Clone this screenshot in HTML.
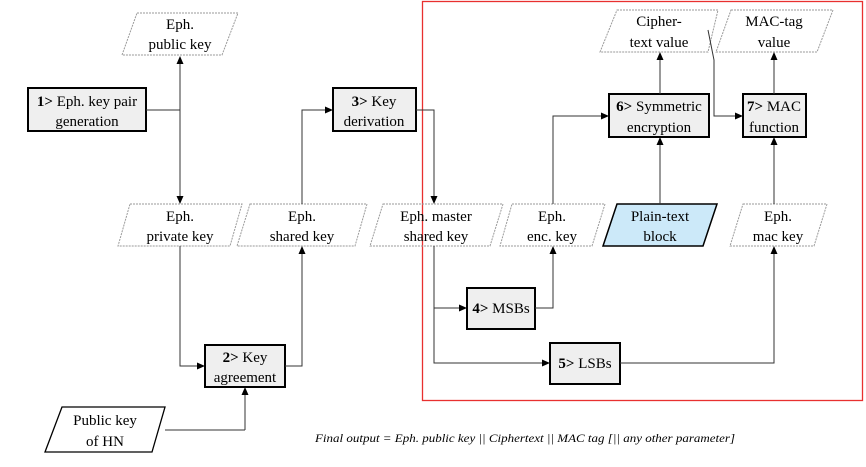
<!DOCTYPE html>
<html><head><meta charset="utf-8"><style>
html,body{margin:0;padding:0;background:#fff;}
svg{display:block;font-family:"Liberation Serif",serif;}
</style></head><body>
<svg width="866" height="467" viewBox="0 0 866 467" xmlns="http://www.w3.org/2000/svg">
<defs><marker id="a" markerWidth="8" markerHeight="8" refX="7" refY="4" orient="auto" markerUnits="userSpaceOnUse"><path d="M0,0.5 L8,4 L0,7.5 z" fill="#000"/></marker></defs>
<rect x="422.5" y="1.5" width="440" height="399" fill="none" stroke="#e8302f" stroke-width="1.3"/>
<g fill="none" stroke="#9a9a9a" stroke-width="1" stroke-dasharray="2,1">
<polygon points="137,13 238,13 222,55 122,55"/>
<polygon points="130,204 242,204 230,246 118,246"/>
<polygon points="250,204 367,204 355,246 237,246"/>
<polygon points="383,204 503,204 490,246 370,246"/>
<polygon points="512,204 605,204 592,246 500,246"/>
<polygon points="743,204 827,204 814,246 730,246"/>
<polygon points="617,10 718,10 708,52 600,52"/>
<polygon points="731,10 833,10 817,52 716,52"/>
</g>
<polygon points="617,204 717,204 703,246 603,246" fill="#cce9f9" stroke="#000" stroke-width="1.5"/>
<polygon points="62,407 165,407 152,452 45,452" fill="#fff" stroke="#000" stroke-width="1.3"/>
<g fill="#efefef" stroke="#000" stroke-width="2">
<rect x="28" y="88" width="118" height="43"/>
<rect x="333" y="88" width="83" height="43"/>
<rect x="609" y="94" width="100" height="43"/>
<rect x="743" y="94" width="63" height="43"/>
<rect x="467" y="288" width="68" height="41"/>
<rect x="550" y="343" width="70" height="41"/>
<rect x="205" y="345" width="80" height="42"/>
</g>
<g fill="none" stroke="#333" stroke-width="1">
<line x1="146" y1="110" x2="180" y2="110"/>
<line x1="180" y1="110" x2="180" y2="57" marker-end="url(#a)"/>
<line x1="180" y1="110" x2="180" y2="203" marker-end="url(#a)"/>
<polyline points="302,204 302,110 332,110" marker-end="url(#a)"/>
<polyline points="416,110 434,110 434,203" marker-end="url(#a)"/>
<polyline points="180,246 180,366 204,366" marker-end="url(#a)"/>
<polyline points="285,366 302,366 302,247" marker-end="url(#a)"/>
<polyline points="245,430 165,430"/>
<line x1="245" y1="430" x2="245" y2="388" marker-end="url(#a)"/>
<polyline points="434,246 434,363 549,363" marker-end="url(#a)"/>
<line x1="434" y1="308" x2="466" y2="308" marker-end="url(#a)"/>
<polyline points="535,308 553,308 553,247" marker-end="url(#a)"/>
<polyline points="620,363 774,363 774,247" marker-end="url(#a)"/>
<polyline points="553,204 553,116 608,116" marker-end="url(#a)"/>
<line x1="660" y1="204" x2="660" y2="138" marker-end="url(#a)"/>
<line x1="660" y1="94" x2="660" y2="53" marker-end="url(#a)"/>
<line x1="774" y1="204" x2="774" y2="138" marker-end="url(#a)"/>
<line x1="774" y1="94" x2="774" y2="53" marker-end="url(#a)"/>
<polyline points="708,30 714,60 714,116 742,116" marker-end="url(#a)"/>
</g>
<g font-size="15" text-anchor="middle" fill="#000">
<text x="180" y="29">Eph.</text><text x="180" y="49">public key</text>
<text x="87" y="106"><tspan font-weight="bold">1&gt;</tspan> Eph. key pair</text><text x="87" y="126">generation</text>
<text x="374" y="106"><tspan font-weight="bold">3&gt;</tspan> Key</text><text x="374" y="126">derivation</text>
<text x="180" y="221">Eph.</text><text x="180" y="241">private key</text>
<text x="302" y="221">Eph.</text><text x="302" y="241">shared key</text>
<text x="436" y="221">Eph. master</text><text x="436" y="241">shared key</text>
<text x="552" y="221">Eph.</text><text x="552" y="241">enc. key</text>
<text x="660" y="221">Plain-text</text><text x="660" y="241">block</text>
<text x="778" y="221">Eph.</text><text x="778" y="241">mac key</text>
<text x="659" y="26">Cipher-</text><text x="659" y="47">text value</text>
<text x="774" y="26">MAC-tag</text><text x="774" y="47">value</text>
<text x="659" y="111"><tspan font-weight="bold">6&gt;</tspan> Symmetric</text><text x="659" y="132">encryption</text>
<text x="774" y="111"><tspan font-weight="bold">7&gt;</tspan> MAC</text><text x="774" y="132">function</text>
<text x="501" y="313"><tspan font-weight="bold">4&gt;</tspan> MSBs</text>
<text x="585" y="368"><tspan font-weight="bold">5&gt;</tspan> LSBs</text>
<text x="245" y="362"><tspan font-weight="bold">2&gt;</tspan> Key</text><text x="245" y="382">agreement</text>
<text x="105" y="425">Public key</text><text x="105" y="446">of HN</text>
</g>
<text x="315" y="442" font-size="12" font-style="italic" textLength="420" lengthAdjust="spacingAndGlyphs">Final output = Eph. public key || Ciphertext || MAC tag [|| any other parameter]</text>
</svg>
</body></html>
